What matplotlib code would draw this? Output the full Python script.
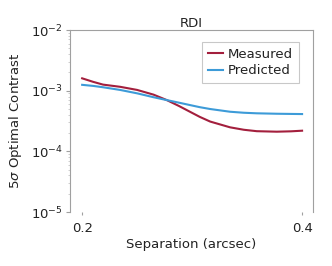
import numpy as np
import matplotlib.pyplot as plt
from matplotlib.ticker import LogLocator, FixedLocator

# separation (arcsec) and contrast curves
sep = [0.200, 0.210, 0.219, 0.2345, 0.250, 0.265, 0.277, 0.288, 0.298, 0.307, 0.3164, 0.3345, 0.347, 0.3588, 0.377, 0.390, 0.400]
measured = [1.60e-3, 1.40e-3, 1.26e-3, 1.16e-3, 1.03e-3, 8.6e-4, 7.0e-4, 5.6e-4, 4.5e-4, 3.7e-4, 3.1e-4, 2.49e-4, 2.27e-4, 2.15e-4, 2.11e-4, 2.14e-4, 2.19e-4]
predicted = [1.25e-3, 1.20e-3, 1.14e-3, 1.03e-3, 9.05e-4, 7.8e-4, 7.0e-4, 6.35e-4, 5.8e-4, 5.35e-4, 4.99e-4, 4.5e-4, 4.33e-4, 4.24e-4, 4.17e-4, 4.14e-4, 4.12e-4]
xticks = [0.2, 0.4]

plt.rcParams['font.family'] = ['DejaVu Sans']
txt = '#222222'
gray = '#a0a0a0'
fs = 9.5

fig = plt.figure(figsize=(3.32, 2.66), dpi=100)
ax = fig.add_axes([0.211, 0.203, 0.732, 0.684])

ax.plot(sep, measured, color='#a31f3d', lw=1.5, label='Measured')
ax.plot(sep, predicted, color='#3d9bd8', lw=1.5, label='Predicted')

ax.set_yscale('log')
ax.set_ylim(1e-5, 1e-2)
ax.set_xlim(0.189, 0.41)
ax.xaxis.set_major_locator(FixedLocator(xticks))
ax.set_xticklabels(['0.2', '0.4'])
ax.yaxis.set_major_locator(LogLocator(base=10, numticks=10))
ax.yaxis.set_minor_locator(LogLocator(base=10, subs=np.arange(2, 10), numticks=10))

for s in ['left', 'top', 'right']:
    ax.spines[s].set_color(gray)
    ax.spines[s].set_linewidth(0.8)
ax.spines['bottom'].set_visible(False)

ax.tick_params(axis='both', which='major', colors=gray, labelcolor=txt,
               labelsize=fs, length=3, width=0.8)
ax.tick_params(axis='y', which='minor', colors='#c8c8c8', length=1.5, width=0.6)
ax.tick_params(axis='x', which='major', length=2, pad=5)
ax.tick_params(axis='y', which='major', pad=2)

ax.set_xlabel('Separation (arcsec)', fontsize=fs, color=txt, labelpad=2)
ax.set_ylabel(r'5$\sigma$ Optimal Contrast', fontsize=fs, color=txt, labelpad=5)
ax.set_title('RDI', fontsize=fs, color=txt, pad=2)

leg = ax.legend(loc='upper right', fontsize=fs, frameon=True, fancybox=False,
                handlelength=1.1, handletextpad=0.4, borderpad=0.45,
                labelspacing=0.25, bbox_to_anchor=(0.97, 0.97))
leg.get_frame().set_edgecolor('#bbbbbb')
leg.get_frame().set_linewidth(0.8)
for t in leg.get_texts():
    t.set_color(txt)

fig.savefig('out.png', dpi=100)
